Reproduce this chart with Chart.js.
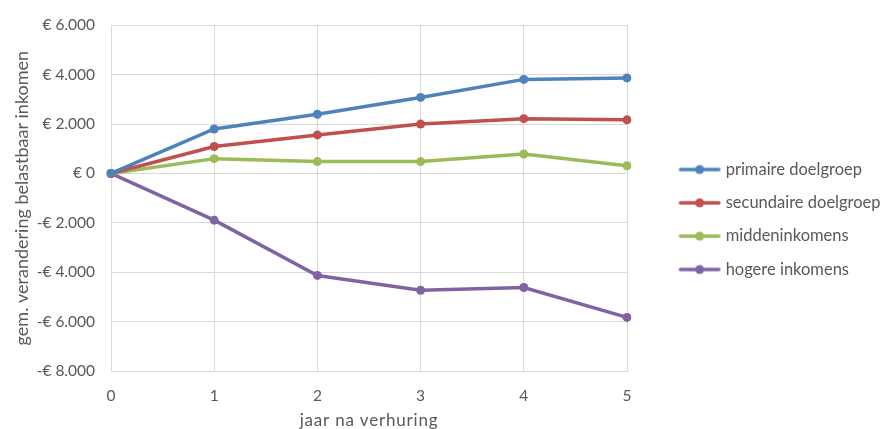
<!DOCTYPE html>
<html><head><meta charset="utf-8">
<script src="https://cdn.jsdelivr.net/npm/chart.js@4/dist/chart.umd.min.js"></script>
<style>html,body{margin:0;padding:0;background:#fff}#wrap{width:885px;height:429px;position:relative}</style>
</head><body><div id="wrap"><canvas id="c" width="885" height="429"></canvas></div>
<script>
const years = ['0','1','2','3','4','5'];
const seriesNames = ['primaire doelgroep','secundaire doelgroep','middeninkomens','hogere inkomens'];
const primaire = [0, 1800, 2400, 3080, 3810, 3870];
const secundaire = [0, 1090, 1560, 2000, 2220, 2170];
const midden = [0, 600, 480, 480, 790, 310];
const hogere = [0, -1890, -4130, -4730, -4620, -5830];
const colors = ['#4f81bd','#c0504d','#9bbb59','#8064a2'];
const yTicks = {min:-8000, max:6000, step:2000};

function fmt(v){
  const s = Math.abs(v).toString().replace(/\B(?=(\d{3})+(?!\d))/g,'.');
  return (v<0?'-':'') + '€ ' + s;
}
function legendIcon(col){
  const cv = document.createElement('canvas');
  cv.width = 48; cv.height = 12;
  const g = cv.getContext('2d');
  g.strokeStyle = col; g.lineWidth = 3.5; g.lineCap='round';
  g.beginPath(); g.moveTo(7,6); g.lineTo(45.5,6); g.stroke();
  g.fillStyle = col; g.beginPath(); g.arc(26.25,6,4.5,0,Math.PI*2); g.fill();
  return cv;
}
const allData = [primaire, secundaire, midden, hogere];
const datasets = allData.map((d,i)=>({
  label: seriesNames[i], data: d, borderColor: colors[i], backgroundColor: colors[i],
  borderWidth: 3.5, pointRadius: 4.5, pointHoverRadius: 4.5, tension: 0, pointBorderWidth: 0
}));
const fam = 'Lato, "Open Sans", sans-serif';
const tickFont = {family: fam, size: 15.5};
const legendFont = {family: fam, size: 16.5};
const yTitleFont = {family: fam, size: 18};
const xTitleFont = {family: fam, size: 17};
const legendLayout = {
  id: 'legendLayout',
  beforeLayout(chart){
    const lg = chart.legend;
    if (lg && !lg._patched){
      const origFit = lg.fit.bind(lg);
      lg.fit = function(){ origFit(); this.width = 258; };
      const origDraw = lg.draw.bind(lg);
      lg.draw = function(){ const c = this.ctx; c.save(); c.translate(33.6, -4); origDraw(); c.restore(); };
      lg._patched = true;
    }
    const xs = chart.scales.x;
    if (xs && !xs._patched){
      const origTitle = xs.drawTitle.bind(xs);
      xs.drawTitle = function(){ const c = this.ctx; c.save(); c.letterSpacing = '0.8px'; c.translate(0, 1.5); origTitle(); c.restore(); };
      xs._patched = true;
    }
  }
};
new Chart(document.getElementById('c'), {
  type: 'line',
  data: {labels: years, datasets},
  plugins: [legendLayout],
  options: {
    responsive: false, animation: false,
    layout: {padding: {left: 0, right: 0, top: 18, bottom: 0}},
    plugins: {
      tooltip: {enabled: false},
      legend: {
        position: 'right', align: 'center',
        labels: {
          color: '#595959', font: legendFont, usePointStyle: true, pointStyleWidth: 40, padding: 16.8,
          generateLabels: (chart) => chart.data.datasets.map((ds,i)=>({
            text: ds.label, pointStyle: legendIcon(colors[i]), fontColor: '#595959',
            strokeStyle: colors[i], fillStyle: colors[i], lineWidth: 0, datasetIndex: i, hidden: false
          }))
        }
      }
    },
    scales: {
      x: {
        offset: false,
        afterFit: s => { s.height = 58; },
        grid: {color: '#d9d9d9', lineWidth: 1, drawTicks: false},
        border: {color: '#d9d9d9'},
        ticks: {color: '#595959', font: tickFont, padding: 16, maxRotation: 0},
        title: {display: true, text: 'jaar na verhuring', color: '#595959', font: xTitleFont, padding: {top: 0, bottom: 0}}
      },
      y: {
        min: yTicks.min, max: yTicks.max,
        afterFit: s => { s.width = 111; },
        grid: {color: '#d9d9d9', lineWidth: 1, drawTicks: false},
        border: {color: '#d9d9d9'},
        ticks: {stepSize: yTicks.step, color: '#595959', font: tickFont, padding: 16, callback: v => fmt(v)},
        title: {display: true, text: 'gem. verandering belastbaar inkomen', color: '#595959', font: yTitleFont, padding: {top: 11, bottom: 0}}
      }
    }
  }
});
</script></body></html>
